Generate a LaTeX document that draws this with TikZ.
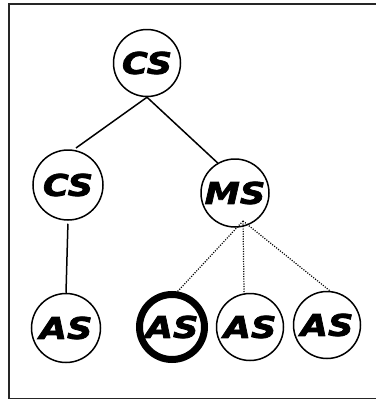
\documentclass[tikz,border=0pt]{standalone}
\usepackage{fontspec}
\setmainfont{DejaVu Sans}
\newfontfamily\rolefont{DejaVu Sans}[BoldItalicFeatures={FakeBold=2.5,FakeStretch=1.18}]
\begin{document}
\begin{tikzpicture}[x=1pt,y=-1pt,
  role/.style={circle,draw,line width=1.5pt,inner sep=0pt,minimum size=67pt,
    font=\rolefont\fontsize{30}{30}\selectfont\bfseries\itshape},
  selected/.style={role,line width=7pt,minimum size=65pt},
  link/.style={line width=1.5pt},
  weak/.style={line width=1.2pt,dash pattern=on 1.1pt off 1.4pt}]
  \useasboundingbox (0,0) rectangle (375,399);
  % outer frame
  \draw[line width=2pt,black!85] (8.5,3.5) rectangle (390,398.5);

  % tree nodes
  \node[role] (root) at (147,63) {CS};
  \node[role,minimum size=70pt] (lcs) at (68,185) {CS};
  \node[role,minimum size=68pt] (ms) at (235,193) {MS};
  \node[role,minimum size=69pt] (las) at (66,328) {AS};
  \node[selected] (sel) at (172,327) {AS};
  \node[role,minimum size=67pt] (mas) at (250,327) {AS};
  \node[role,minimum size=67pt] (ras) at (327,325) {AS};

  % solid connectors
  \draw[link,shorten >=3pt] (root.south) -- (lcs.81);
  \draw[link] (root.south) -- (ms.120);
  \draw[link,shorten <=3pt] (lcs.south) -- (las.north);

  % dotted connectors from inside MS
  \coordinate (msfoot) at (243,221);
  \draw[weak] (msfoot) -- (sel.81);
  \draw[weak] (msfoot) -- (mas.100);
  \draw[weak] (msfoot) -- (ras.85);
\end{tikzpicture}
\end{document}
